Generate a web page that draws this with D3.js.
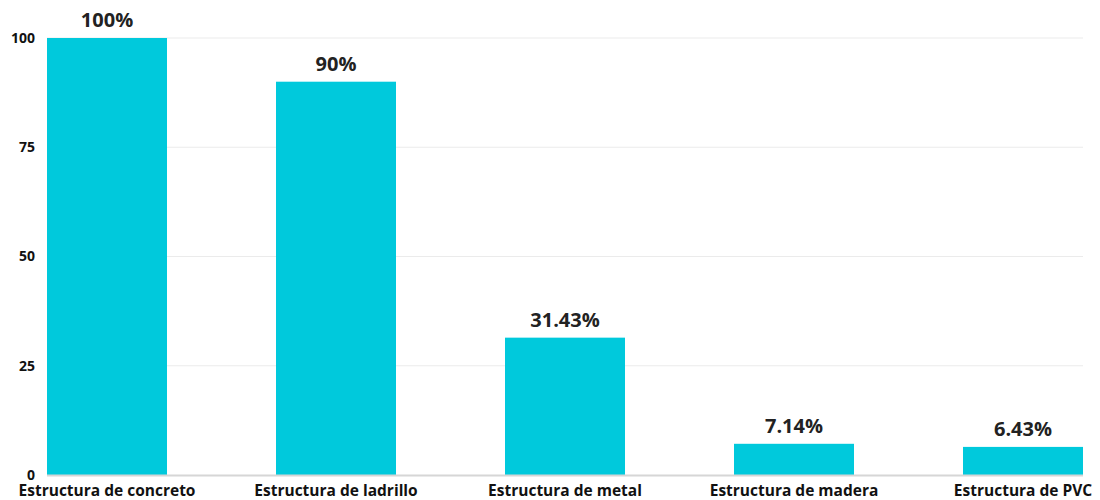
<!DOCTYPE html>
<html><head><meta charset="utf-8">
<script src="https://cdn.jsdelivr.net/npm/d3@7"></script>
<style>body{margin:0;background:#fff}svg{display:block}</style>
</head><body>
<svg id="c" width="1100" height="500"></svg>
<script>
const categories = ["Estructura de concreto","Estructura de ladrillo","Estructura de metal","Estructura de madera","Estructura de PVC"];
const values = [100, 90, 31.43, 7.14, 6.43];
const valueLabels = ["100%","90%","31.43%","7.14%","6.43%"];
const yTicks = [0, 25, 50, 75, 100];

(function () {
const svg = d3.select("#c");
const mLeft = 47, mRight = 1083, mTop = 38, mBottom = 475;
const x = d3.scaleBand().domain(categories).range([mLeft, mRight]).paddingInner(1 - 120/229).paddingOuter(0);
const y = d3.scaleLinear().domain([0, 100]).range([mBottom, mTop]);
const font = "'Open Sans', sans-serif";

// grid
svg.append("g").selectAll("line").data(yTicks.filter(d => d > 0)).join("line")
  .attr("x1", mLeft).attr("x2", mRight)
  .attr("y1", d => y(d)).attr("y2", d => y(d))
  .attr("stroke", "#ebebeb").attr("stroke-width", 1);

// y axis
const yAxis = d3.axisLeft(y).tickValues(yTicks).tickSize(0).tickPadding(12);
const ya = svg.append("g").attr("transform", `translate(${mLeft},0)`).call(yAxis);
ya.select(".domain").remove();
ya.selectAll("text").attr("font-family", font).attr("font-weight", 700).attr("font-size", 14).attr("fill", "#111");

// bars
svg.append("g").selectAll("rect").data(values).join("rect")
  .attr("x", (d, i) => x(categories[i])).attr("width", x.bandwidth())
  .attr("y", d => y(d)).attr("height", d => y(0) - y(d))
  .attr("fill", "#00c9dc");

// zero line
svg.append("line").attr("x1", mLeft).attr("x2", mRight).attr("y1", y(0) + 0.5).attr("y2", y(0) + 0.5)
  .attr("stroke", "#d6d6d6").attr("stroke-width", 2);

// x axis
const xAxis = d3.axisBottom(x).tickSize(0).tickPadding(9.5);
const xa = svg.append("g").attr("transform", `translate(0,${mBottom})`).call(xAxis);
xa.select(".domain").remove();
xa.selectAll("text").attr("font-family", font).attr("font-weight", 700).attr("font-size", 15.5).attr("fill", "#111");

// value labels
svg.append("g").selectAll("text").data(values).join("text")
  .attr("x", (d, i) => x(categories[i]) + x.bandwidth() / 2)
  .attr("y", d => y(d) - 11)
  .attr("text-anchor", "middle")
  .attr("font-family", font).attr("font-weight", 700).attr("font-size", 20).attr("fill", "#222")
  .text((d, i) => valueLabels[i]);
})();
</script>
</body></html>
